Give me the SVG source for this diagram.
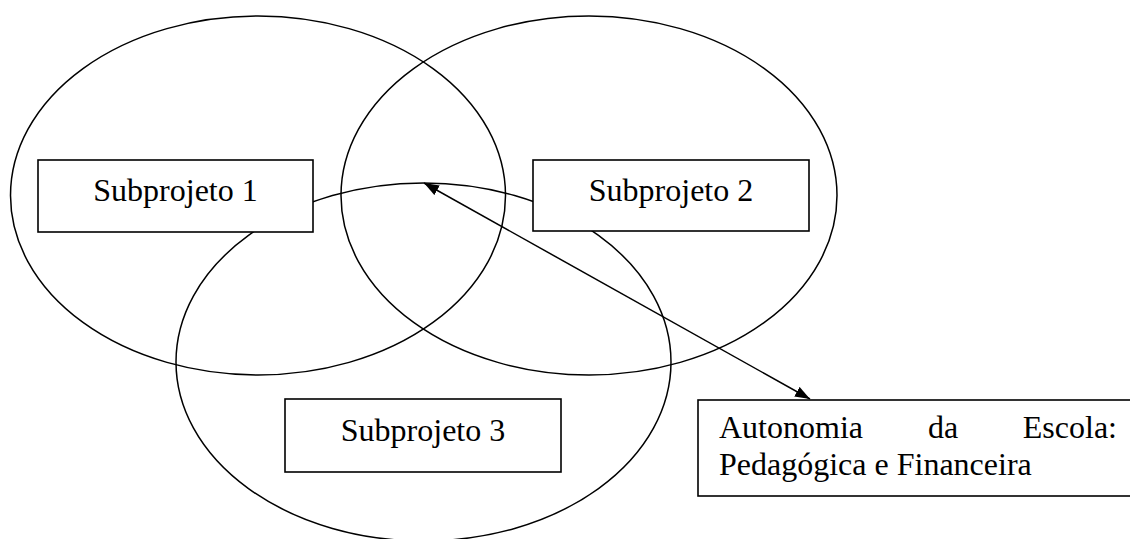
<svg xmlns="http://www.w3.org/2000/svg" width="1130" height="539" viewBox="0 0 1130 539">
<style>
.ell{fill:none;stroke:#000;stroke-width:1.5}
.box{fill:#fff;stroke:#000;stroke-width:1.6}
.lbl{font-family:"Liberation Serif","Times New Roman",serif;font-size:32px;fill:#000}
.conn{stroke:#000;stroke-width:1.5;fill:none}
</style>
<defs>
<marker id="ah" viewBox="0 0 15 11" refX="15" refY="5.5" markerWidth="15" markerHeight="11" markerUnits="userSpaceOnUse" orient="auto-start-reverse">
<path d="M0,0 L15,5.5 L0,11 Z" fill="#000"/>
</marker>
</defs>
<g id="circles">
<ellipse id="circle1" class="ell" cx="258" cy="195.5" rx="247.5" ry="179.5"/>
<ellipse id="circle2" class="ell" cx="589" cy="195.5" rx="248" ry="179.5"/>
<ellipse id="circle3" class="ell" cx="423.5" cy="362" rx="247.5" ry="179"/>
</g>
<g id="connectors">
<line class="conn" x1="424" y1="183" x2="810" y2="399" marker-start="url(#ah)" marker-end="url(#ah)"/>
</g>
<g id="sub1">
<rect class="box" x="38" y="160" width="275" height="72"/>
<text class="lbl" x="175.5" y="201" text-anchor="middle">Subprojeto 1</text>
</g>
<g id="sub2">
<rect class="box" x="533" y="160" width="276" height="71"/>
<text class="lbl" x="671" y="201" text-anchor="middle">Subprojeto 2</text>
</g>
<g id="sub3">
<rect class="box" x="285" y="399" width="276" height="73"/>
<text class="lbl" x="423" y="441" text-anchor="middle">Subprojeto 3</text>
</g>
<g id="autonomia">
<rect class="box" x="698" y="400" width="440" height="96"/>
<text class="lbl" x="719" y="438">Autonomia</text>
<text class="lbl" x="943" y="438" text-anchor="middle">da</text>
<text class="lbl" x="1117" y="438" text-anchor="end">Escola:</text>
<text class="lbl" x="719" y="475">Pedagógica e Financeira</text>
</g>
</svg>
